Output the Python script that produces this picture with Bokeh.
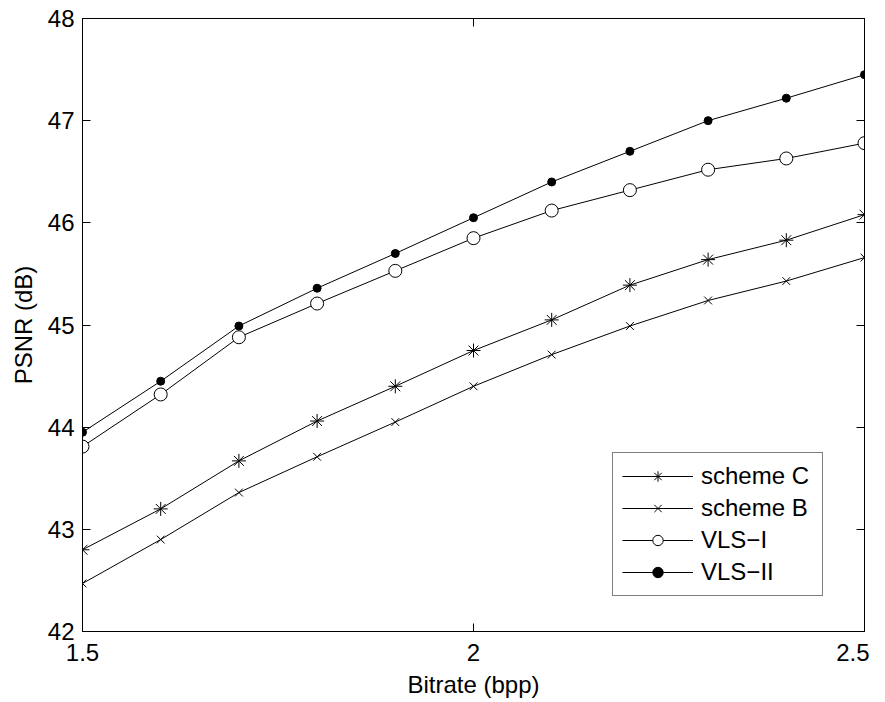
from bokeh.plotting import figure
from bokeh.models import LinearAxis, FixedTicker, Legend, LegendItem, Range1d
from bokeh.embed import file_html
from bokeh.resources import INLINE

bitrate = [1.5, 1.6, 1.7, 1.8, 1.9, 2.0, 2.1, 2.2, 2.3, 2.4, 2.5]
scheme_c = [42.80, 43.20, 43.67, 44.06, 44.40, 44.75, 45.05, 45.39, 45.64, 45.83, 46.08]
scheme_b = [42.47, 42.90, 43.36, 43.71, 44.05, 44.40, 44.71, 44.99, 45.24, 45.43, 45.66]
vls_i = [43.81, 44.32, 44.88, 45.21, 45.53, 45.85, 46.12, 46.32, 46.52, 46.63, 46.78]
vls_ii = [43.95, 44.45, 44.99, 45.36, 45.70, 46.05, 46.40, 46.70, 47.00, 47.22, 47.45]

x_ticks = [1.5, 2.0, 2.5]
x_tick_labels = ["1.5", "2", "2.5"]
y_ticks = [42, 43, 44, 45, 46, 47, 48]

FONT = "Liberation Sans"
FS = "24px"

p = figure(width=869, height=700, output_backend="svg", toolbar_location=None,
           x_range=Range1d(1.5, 2.5), y_range=Range1d(42, 48),
           min_border_left=82, min_border_right=5, min_border_top=18, min_border_bottom=66,
           x_axis_label="Bitrate (bpp)", y_axis_label="PSNR (dB)")
p.grid.visible = False
p.outline_line_color = "black"
p.outline_line_width = 1
p.background_fill_color = "white"
p.border_fill_color = "white"

for ax in p.xaxis:
    ax.ticker = FixedTicker(ticks=x_ticks)
    ax.major_label_overrides = {t: l for t, l in zip(x_ticks, x_tick_labels)}
for ax in p.yaxis:
    ax.ticker = FixedTicker(ticks=y_ticks)

for ax in list(p.xaxis) + list(p.yaxis):
    ax.major_tick_in = 8
    ax.major_tick_out = 0
    ax.minor_tick_in = 0
    ax.minor_tick_out = 0
    ax.axis_line_color = "black"
    ax.major_tick_line_color = "black"
    ax.major_label_text_font = FONT
    ax.major_label_text_font_size = FS
    ax.major_label_text_color = "black"
    ax.axis_label_text_font = FONT
    ax.axis_label_text_font_size = FS
    ax.axis_label_text_font_style = "normal"
    ax.axis_label_text_color = "black"
p.xaxis.major_label_standoff = 12
p.xaxis.axis_label_standoff = 7
p.yaxis.major_label_standoff = 8
p.yaxis.axis_label_standoff = 8

top = LinearAxis(ticker=FixedTicker(ticks=x_ticks), major_tick_in=8, major_tick_out=0,
                 minor_tick_in=0, minor_tick_out=0, major_label_text_font_size="1px",
                 major_label_text_color=None, major_label_standoff=0)
right = LinearAxis(ticker=FixedTicker(ticks=y_ticks), major_tick_in=8, major_tick_out=0,
                   minor_tick_in=0, minor_tick_out=0, major_label_text_font_size="1px",
                   major_label_text_color=None, major_label_standoff=0)
p.add_layout(top, "above")
p.add_layout(right, "right")

r_c = p.line(bitrate, scheme_c, line_color="black", line_width=1)
m_c = p.scatter(bitrate, scheme_c, marker="asterisk", size=14, line_color="black", line_width=1)
r_b = p.line(bitrate, scheme_b, line_color="black", line_width=1)
m_b = p.scatter(bitrate, scheme_b, marker="x", size=11, line_color="black", line_width=1)
r_i = p.line(bitrate, vls_i, line_color="black", line_width=1)
m_i = p.scatter(bitrate, vls_i, marker="circle", size=13, line_color="black", fill_color="white", line_width=1)
r_ii = p.line(bitrate, vls_ii, line_color="black", line_width=1)
m_ii = p.scatter(bitrate, vls_ii, marker="circle", size=8, line_color="black", fill_color="black", line_width=1)

legend = Legend(items=[
    LegendItem(label="scheme C", renderers=[r_c, m_c]),
    LegendItem(label="scheme B", renderers=[r_b, m_b]),
    LegendItem(label="VLS\u2212I", renderers=[r_i, m_i]),
    LegendItem(label="VLS\u2212II", renderers=[r_ii, m_ii]),
], location=(530, 35))
legend.label_text_font = FONT
legend.label_text_font_size = FS
legend.label_text_color = "black"
legend.glyph_width = 71
legend.glyph_height = 26
legend.label_height = 26
legend.label_width = 112
legend.spacing = 4
legend.padding = 9
legend.margin = 0
legend.label_standoff = 8
legend.border_line_color = "black"
legend.border_line_width = 1
legend.background_fill_color = "white"
legend.background_fill_alpha = 1
p.add_layout(legend, "center")

open("out.html", "w").write(file_html(p, INLINE))
